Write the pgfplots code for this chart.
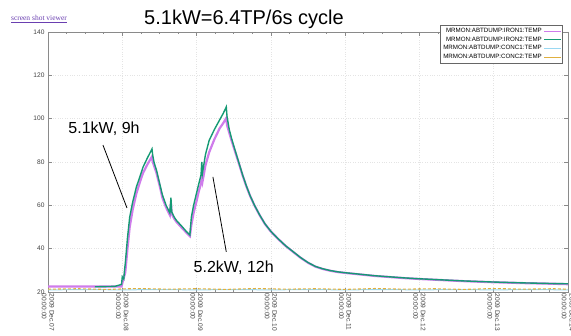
\documentclass[border=0pt]{standalone}
\usepackage{pgfplots}
\pgfplotsset{compat=1.18}
\usepackage{fontspec}
\setmainfont{Liberation Sans}
\newfontfamily\seriffont{Liberation Serif}
\definecolor{ironA}{HTML}{CF7CEB}
\definecolor{ironB}{HTML}{159A74}
\definecolor{concA}{HTML}{9AD8F2}
\definecolor{concB}{HTML}{E0B040}
\definecolor{gridc}{HTML}{E4E4E4}
\definecolor{framec}{HTML}{8A8A8A}
\definecolor{linkc}{HTML}{6A3FB0}
\begin{document}
\begin{tikzpicture}
\begin{axis}[
  scale only axis,
  width=520pt, height=260pt,
  xmin=0, xmax=7, ymin=20, ymax=140,
  xtick={0,1,2,3,4,5,6,7},
  xticklabels={2009 Dec.07\\00:00:00,2009 Dec.08\\00:00:00,2009 Dec.09\\00:00:00,2009 Dec.10\\00:00:00,2009 Dec.11\\00:00:00,2009 Dec.12\\00:00:00,2009 Dec.13\\00:00:00,2009 Dec.14\\00:00:00},
  minor x tick num=3,
  ytick={20,40,60,80,100,120,140},
  xticklabel style={rotate=-90, anchor=west, align=left, font=\fontsize{6.6}{7.6}\selectfont, text=black!75, inner sep=1.5pt},
  yticklabel style={font=\fontsize{6.6}{7}\selectfont, text=black!75},
  /pgf/number format/assume math mode=true,
  tick align=inside,
  major tick length=4pt, minor tick length=2.5pt,
  tick style={framec, line width=0.5pt},
  axis line style={framec, line width=0.7pt},
  grid=major,
  major grid style={gridc, dotted, line width=0.6pt},
  legend style={at={(rel axis cs:0.754,1.027)}, anchor=north west,
    font=\fontsize{6.2}{6.6}\selectfont, draw=black!60, line width=0.5pt,
    inner sep=1pt, row sep=-1.2pt, fill=white, cells={anchor=east}},
  legend plot pos=right,
  legend image post style={solid, line width=0.8pt},
  clip=true,
]
\addplot[ironA, line width=2.2pt] coordinates {
(0,22.5)(0.99,22.5)(1.0,24)(1.04,29)(1.07,40)(1.10,50)(1.14,58)(1.19,65.5)(1.24,71)(1.28,75)(1.34,79)(1.40,82.5)(1.41,80)(1.43,78)(1.46,75)(1.50,69.5)(1.54,63.5)(1.59,59)(1.64,55.5)(1.655,61)(1.665,56)(1.70,53.8)(1.73,52.3)(1.77,50.8)(1.81,49.3)(1.86,47.5)(1.91,45.8)(1.93,51)(1.96,56.5)(2.0,62)(2.03,66.5)(2.06,70)(2.07,73)(2.08,71)(2.12,78.5)(2.17,84.5)(2.24,90.5)(2.31,95.5)(2.36,98)(2.40,100.3)(2.41,97)(2.44,93.5)(2.47,90)(2.50,86.8)(2.54,82.5)(2.58,78.2)(2.62,73.8)(2.67,68.8)(2.72,64.4)(2.78,59.9)(2.85,55.4)(2.92,51.4)(3.0,47.9)(3.1,44.4)(3.2,41.2)(3.3,38.5)(3.4,35.8)(3.5,33.5)(3.6,31.7)(3.7,30.6)(3.8,29.8)(3.9,29.2)(4.0,28.8)(4.2,28.1)(4.4,27.4)(4.6,26.9)(4.8,26.4)(5.0,26.0)(5.3,25.5)(5.6,25.0)(6.0,24.5)(6.4,24.1)(6.8,23.8)(7,23.6)};
\addlegendentry{MRMON:ABTDUMP:IRON1:TEMP}
\addplot[ironB, line width=1.4pt] coordinates {
(0.63,22.4)(0.9,22.6)(0.99,23.5)(1.0,27)(1.02,26)(1.03,30)(1.04,33)(1.07,45)(1.10,54.6)(1.14,61.5)(1.19,68.5)(1.24,73.5)(1.28,77.7)(1.34,82)(1.40,86)(1.41,83)(1.43,79.5)(1.46,76.3)(1.50,70.5)(1.54,64.8)(1.59,60)(1.64,56.5)(1.655,63.5)(1.665,57)(1.70,54.5)(1.73,53)(1.77,51.5)(1.81,50)(1.86,48)(1.91,46.3)(1.93,54.6)(1.96,60)(2.0,65.7)(2.03,70)(2.06,74)(2.07,80)(2.08,75)(2.12,83.5)(2.17,90)(2.24,95)(2.31,99.4)(2.36,102.5)(2.40,105.4)(2.41,101)(2.44,95)(2.47,91)(2.50,87.5)(2.54,83)(2.58,78.5)(2.62,74)(2.67,69)(2.72,64.5)(2.78,60)(2.85,55.5)(2.92,51.5)(3.0,48)(3.1,44.5)(3.2,41.3)(3.3,38.6)(3.4,35.9)(3.5,33.6)(3.6,31.8)(3.7,30.7)(3.8,29.9)(3.9,29.3)(4.0,28.9)(4.2,28.2)(4.4,27.5)(4.6,27.0)(4.8,26.5)(5.0,26.1)(5.3,25.6)(5.6,25.1)(6.0,24.6)(6.4,24.2)(6.8,23.9)(7,23.8)};
\addlegendentry{MRMON:ABTDUMP:IRON2:TEMP}
\addplot[concA, line width=1pt] coordinates {
(0,21.0)(0.5,21.1)(1,21.0)(1.5,21.1)(2,21.0)(2.5,21.1)(3,21.0)(3.5,21.1)(4,21.0)(4.5,21.1)(5,21.0)(5.5,21.1)(6,21.0)(6.5,21.1)(7,21.0)};
\addlegendentry{MRMON:ABTDUMP:CONC1:TEMP}
\addplot[concB, line width=1.1pt, densely dashed] coordinates {
(0,21.3)(0.4,21.5)(0.8,21.2)(1.2,21.6)(1.6,21.3)(2.0,21.5)(2.4,21.2)(2.8,21.6)(3.2,21.3)(3.6,21.5)(4.0,21.2)(4.4,21.6)(4.8,21.3)(5.2,21.5)(5.6,21.2)(6.0,21.6)(6.4,21.3)(6.8,21.5)(7,21.3)};
\addlegendentry{MRMON:ABTDUMP:CONC2:TEMP}
\draw[black, line width=0.8pt] (axis cs:0.74,87.8) -- (axis cs:1.063,58.8);
\draw[black, line width=0.8pt] (axis cs:2.22,73.1) -- (axis cs:2.40,38.5);
\node[font=\fontsize{16}{18}\selectfont] at (axis cs:0.754,95.2) {5.1kW, 9h};
\node[font=\fontsize{16}{18}\selectfont] at (axis cs:2.50,31.1) {5.2kW, 12h};
\end{axis}
\node[font=\fontsize{20}{22}\selectfont, anchor=base] at ([shift={(196pt,7pt)}]current axis.north west) {5.1kW=6.4TP/6s cycle};
\node[font=\seriffont\fontsize{7.5}{8}\selectfont, text=linkc, anchor=base] at ([shift={(-9pt,11pt)}]current axis.north west) {\underline{screen shot viewer}};
\pgfresetboundingbox
\path[use as bounding box] ([shift={(-48pt,-44pt)}]current axis.south west) rectangle ([shift={(3pt,32pt)}]current axis.north east);
\end{tikzpicture}
\end{document}
